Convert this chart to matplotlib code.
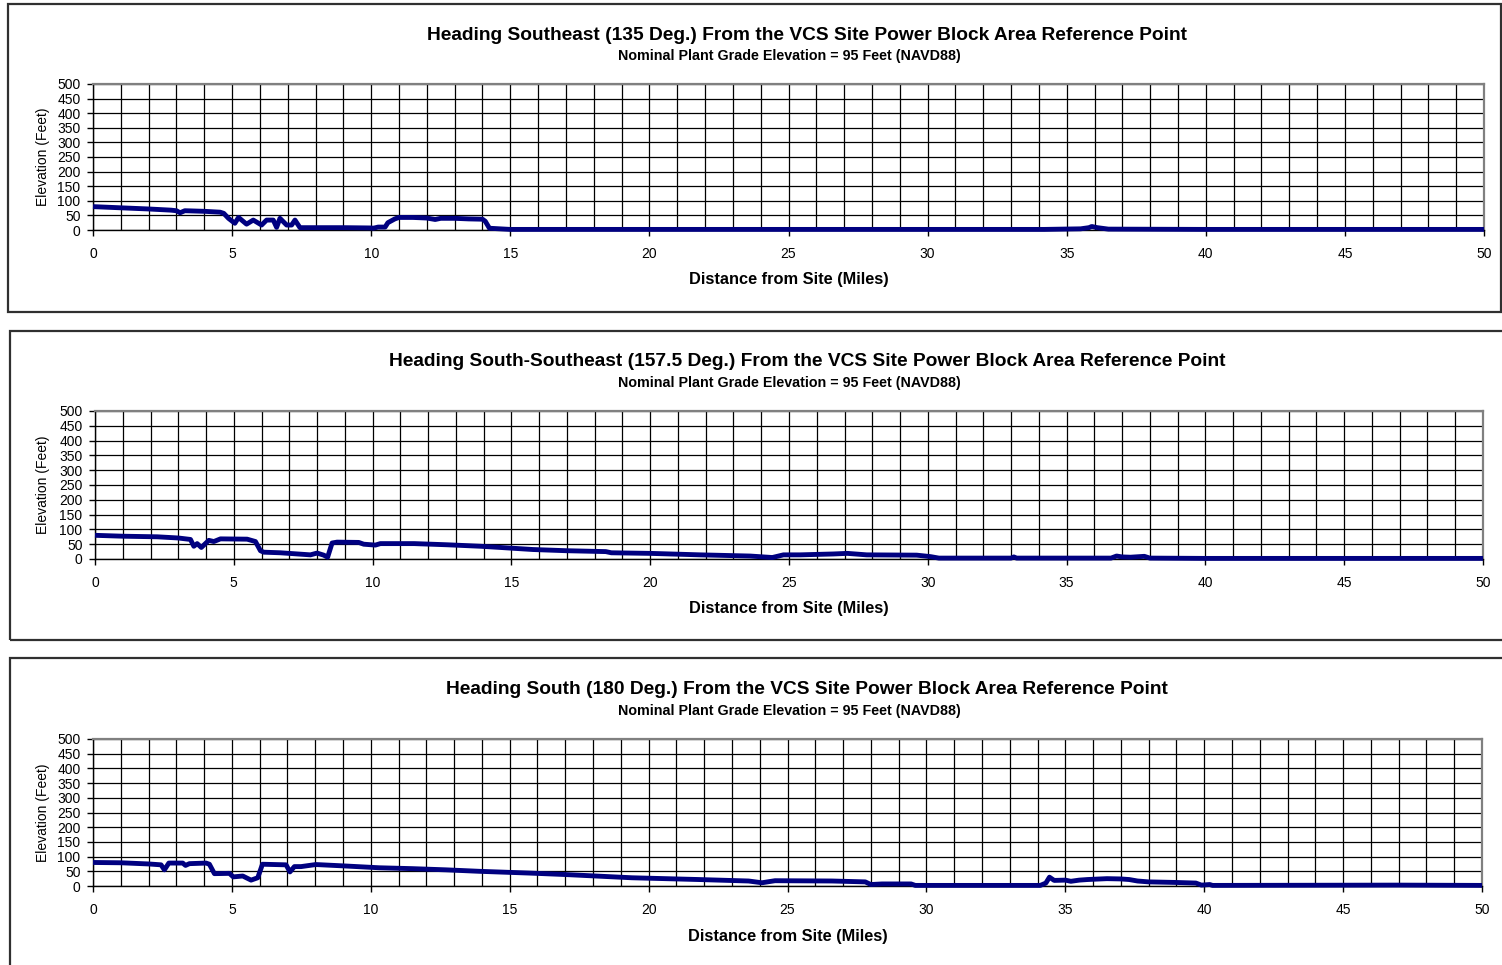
import matplotlib
matplotlib.use("Agg")
import matplotlib.pyplot as plt
from matplotlib.patches import Rectangle
from matplotlib.ticker import MultipleLocator

plt.rcParams['font.family'] = ['Liberation Sans', 'DejaVu Sans']

# ---- terrain profiles (distance in miles, elevation in feet) ----
se_dist = [0, 1, 2, 2.8, 3.0, 3.13, 3.3, 4.0, 4.57, 4.7, 4.87, 5.1, 5.23, 5.52, 5.76,
           6.06, 6.24, 6.48, 6.6, 6.72, 6.96, 7.14, 7.26, 7.44, 8.0, 9.0, 10.0, 10.07,
           10.25, 10.5, 10.6, 10.85, 11.0, 11.5, 12.0, 12.3, 12.5, 13.0, 13.5, 14.0,
           14.1, 14.25, 15.0, 20, 25, 30, 34.2, 35.5, 35.8, 35.9, 36.1, 36.5, 40, 45, 50]
se_elev = [80, 76, 72, 68, 66, 59, 66, 64, 61, 57, 40, 23, 43, 20, 34,
           17, 34, 34, 9, 40, 17, 17, 34, 8, 8, 8, 7, 6,
           10, 10, 25, 38, 43, 43, 41, 36, 40, 40, 38, 37,
           30, 6, 2, 2, 2, 2, 2, 4, 8, 12, 8, 3, 2, 2, 2]

sse_dist = [0, 1, 2.24, 3.0, 3.44, 3.56, 3.68, 3.83, 4.1, 4.28, 4.52, 5.48, 5.78, 5.96,
            6.08, 6.68, 7.76, 8.0, 8.24, 8.38, 8.54, 8.72, 9.5, 9.68, 10.1, 10.28, 11.5,
            12.7, 13.9, 14.6, 15.78, 16.98, 18.4, 18.6, 20.0, 21.8, 23.6, 24.4, 24.8,
            25.4, 26.6, 27.1, 27.8, 29.6, 30.1, 30.4, 32.5, 33.0, 33.1, 33.2, 36.6, 36.8,
            37.0, 37.3, 37.8, 38.0, 40, 45, 50]
sse_elev = [80, 77, 75, 71, 66, 43, 52, 39, 63, 59, 68, 67, 59, 28,
            23, 21, 14, 20, 13, 6, 54, 57, 56, 50, 47, 52, 52,
            48, 43, 39, 32, 28, 25, 21, 19, 14, 10, 5, 14,
            14, 17, 19, 14, 13, 8, 3, 3, 3, 7, 3, 3, 10,
            7, 6, 9, 3, 2, 2, 2]

s_dist = [0, 1, 2, 2.45, 2.57, 2.73, 3.23, 3.33, 3.47, 4.07, 4.19, 4.37, 4.91, 5.05,
          5.39, 5.69, 5.93, 6.1, 6.95, 7.09, 7.25, 7.49, 8.02, 9.1, 10.3, 11.5, 12.7,
          13.9, 15.7, 17.0, 19.4, 21.8, 23.6, 24.08, 24.55, 26.6, 27.8, 28.0, 28.4,
          29.45, 29.6, 34.1, 34.3, 34.43, 34.6, 35.0, 35.2, 35.5, 35.8, 36.5, 37.0,
          37.3, 37.6, 38.0, 39.0, 39.7, 39.9, 40.2, 40.3, 40.4, 47.0, 50]
s_elev = [80, 79, 75, 72, 55, 78, 78, 70, 76, 78, 74, 42, 43, 31,
          34, 20, 28, 74, 72, 48, 66, 66, 73, 68, 62, 59, 55,
          50, 44, 39, 28, 22, 17, 11, 18, 17, 14, 5, 7,
          7, 2, 2, 10, 30, 19, 20, 16, 20, 22, 25, 24,
          22, 17, 14, 12, 10, 3, 5, 2, 2, 3, 2]

titles = [
    "Heading Southeast (135 Deg.) From the VCS Site Power Block Area Reference Point",
    "Heading South-Southeast (157.5 Deg.) From the VCS Site Power Block Area Reference Point",
    "Heading South (180 Deg.) From the VCS Site Power Block Area Reference Point",
]
subtitle = "Nominal Plant Grade Elevation = 95 Feet (NAVD88)"
x_label = "Distance from Site (Miles)"
y_label = "Elevation (Feet)"
x_ticks = [0, 5, 10, 15, 20, 25, 30, 35, 40, 45, 50]
y_ticks = [0, 50, 100, 150, 200, 250, 300, 350, 400, 450, 500]

profiles = [(se_dist, se_elev), (sse_dist, sse_elev), (s_dist, s_elev)]

# ---- layout in pixels ----
W, H = 1502, 965
fig = plt.figure(figsize=(W / 100, H / 100), dpi=100)
fig.patch.set_facecolor('white')

# plot-area boxes: (left, right, top, bottom) in pixels from the top-left corner
plot_boxes = [(93, 1484, 84, 230), (95, 1483, 411, 559), (93, 1482, 739, 886)]
# outer chart frames: (left, top, right, bottom)
frames = [(8, 4, 1501, 312), (10, 331, 1506, 640), (10, 658, 1506, 972)]

def fx(px):
    return px / W

def fy(py):
    return 1 - py / H

for (dist, elev), (l, r, t, b), title, (fl, ft, fr, fb) in zip(profiles, plot_boxes, titles, frames):
    fig.add_artist(Rectangle((fx(fl), fy(fb)), fx(fr - fl), (fb - ft) / H,
                             transform=fig.transFigure, fill=False,
                             edgecolor='#303030', linewidth=1.6, zorder=0))

    ax = fig.add_axes([fx(l), fy(b), fx(r - l), (b - t) / H])
    ax.set_xlim(0, 50)
    ax.set_ylim(0, 500)
    ax.xaxis.set_minor_locator(MultipleLocator(1))
    ax.set_xticks(x_ticks)
    ax.set_yticks(y_ticks)
    ax.set_xticklabels([str(v) for v in x_ticks])
    ax.set_yticklabels([str(v) for v in y_ticks])

    ax.grid(which='both', axis='x', color='black', linewidth=0.9)
    ax.grid(which='major', axis='y', color='black', linewidth=0.9)
    ax.set_axisbelow(True)

    for side in ('top', 'right'):
        ax.spines[side].set_color('#808080')
        ax.spines[side].set_linewidth(1.6)
    for side in ('left', 'bottom'):
        ax.spines[side].set_color('black')
        ax.spines[side].set_linewidth(1.0)

    ax.tick_params(axis='both', which='major', direction='out', length=4,
                   width=1.0, labelsize=10, color='black')
    ax.tick_params(axis='x', which='major', pad=8)
    ax.tick_params(axis='y', which='major', pad=5)
    ax.tick_params(axis='x', which='minor', length=0)

    ax.plot(dist, elev, color='#000080', linewidth=3.5, solid_joinstyle='round',
            solid_capstyle='butt', clip_on=False, zorder=3)

    ax.set_ylabel(y_label, fontsize=10)
    ax.yaxis.set_label_coords((50 - l) / (r - l), 0.5)

    fig.text(fx(807), fy(t - 49), title, ha='center', va='center',
             fontsize=13.8, fontweight='bold')
    fig.text(fx(789), fy(t - 28), subtitle, ha='center', va='center',
             fontsize=10.3, fontweight='bold')
    fig.text(fx((l + r) / 2), fy(b + 50), x_label, ha='center', va='center',
             fontsize=11.8, fontweight='bold')

fig.savefig('out.png', dpi=100, facecolor='white')
